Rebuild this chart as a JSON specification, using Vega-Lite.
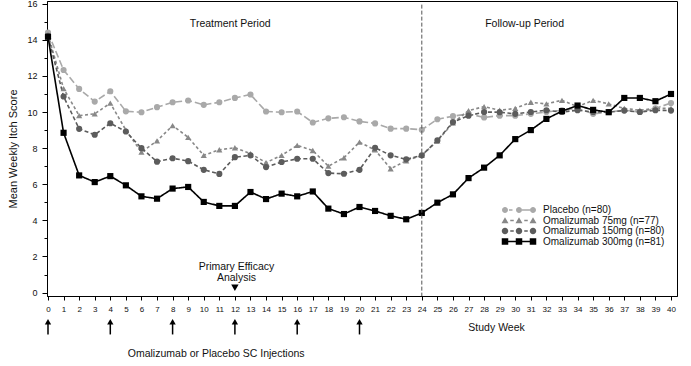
{
  "$schema": "https://vega.github.io/schema/vega-lite/v6.json",
  "width": 630,
  "height": 295,
  "autosize": {"type": "none"},
  "padding": {"left": 47, "top": 1, "right": 14, "bottom": 70},
  "background": "white",
  "config": {
    "font": "Liberation Sans",
    "view": {"stroke": "black", "strokeWidth": 1},
    "axis": {"grid": false, "domainColor": "black", "tickColor": "black", "labelColor": "#111", "titleColor": "#111", "labelFont": "Liberation Sans", "titleFont": "Liberation Sans"},
    "legend": {"orient": "none", "legendX": 467, "legendY": 204, "symbolSize": 100, "labelFontSize": 10, "labelFont": "Liberation Sans", "labelColor": "#111", "rowPadding": 0.5, "labelOffset": 19, "padding": 0, "symbolStrokeWidth": 0, "symbolOpacity": 1, "labelLimit": 300, "titlePadding": 0}
  },
  "datasets": {
    "itch": [
      {"s":"Placebo (n=80)","w":0,"v":14.4},{"s":"Placebo (n=80)","w":1,"v":12.33},{"s":"Placebo (n=80)","w":2,"v":11.28},{"s":"Placebo (n=80)","w":3,"v":10.58},{"s":"Placebo (n=80)","w":4,"v":11.15},{"s":"Placebo (n=80)","w":5,"v":10.04},{"s":"Placebo (n=80)","w":6,"v":9.99},{"s":"Placebo (n=80)","w":7,"v":10.27},{"s":"Placebo (n=80)","w":8,"v":10.54},{"s":"Placebo (n=80)","w":9,"v":10.64},{"s":"Placebo (n=80)","w":10,"v":10.4},{"s":"Placebo (n=80)","w":11,"v":10.54},{"s":"Placebo (n=80)","w":12,"v":10.78},{"s":"Placebo (n=80)","w":13,"v":10.97},{"s":"Placebo (n=80)","w":14,"v":10.03},{"s":"Placebo (n=80)","w":15,"v":9.99},{"s":"Placebo (n=80)","w":16,"v":10.03},{"s":"Placebo (n=80)","w":17,"v":9.42},{"s":"Placebo (n=80)","w":18,"v":9.65},{"s":"Placebo (n=80)","w":19,"v":9.71},{"s":"Placebo (n=80)","w":20,"v":9.48},{"s":"Placebo (n=80)","w":21,"v":9.37},{"s":"Placebo (n=80)","w":22,"v":9.08},{"s":"Placebo (n=80)","w":23,"v":9.08},{"s":"Placebo (n=80)","w":24,"v":9.02},{"s":"Placebo (n=80)","w":25,"v":9.6},{"s":"Placebo (n=80)","w":26,"v":9.77},{"s":"Placebo (n=80)","w":27,"v":9.9},{"s":"Placebo (n=80)","w":28,"v":9.7},{"s":"Placebo (n=80)","w":29,"v":9.8},{"s":"Placebo (n=80)","w":30,"v":9.8},{"s":"Placebo (n=80)","w":31,"v":9.9},{"s":"Placebo (n=80)","w":32,"v":10.0},{"s":"Placebo (n=80)","w":33,"v":10.1},{"s":"Placebo (n=80)","w":34,"v":10.2},{"s":"Placebo (n=80)","w":35,"v":9.9},{"s":"Placebo (n=80)","w":36,"v":10.0},{"s":"Placebo (n=80)","w":37,"v":10.1},{"s":"Placebo (n=80)","w":38,"v":10.0},{"s":"Placebo (n=80)","w":39,"v":10.2},{"s":"Placebo (n=80)","w":40,"v":10.5},
      {"s":"Omalizumab 75mg (n=77)","w":0,"v":14.3},{"s":"Omalizumab 75mg (n=77)","w":1,"v":11.3},{"s":"Omalizumab 75mg (n=77)","w":2,"v":9.8},{"s":"Omalizumab 75mg (n=77)","w":3,"v":9.9},{"s":"Omalizumab 75mg (n=77)","w":4,"v":10.49},{"s":"Omalizumab 75mg (n=77)","w":5,"v":9.0},{"s":"Omalizumab 75mg (n=77)","w":6,"v":7.78},{"s":"Omalizumab 75mg (n=77)","w":7,"v":8.4},{"s":"Omalizumab 75mg (n=77)","w":8,"v":9.25},{"s":"Omalizumab 75mg (n=77)","w":9,"v":8.6},{"s":"Omalizumab 75mg (n=77)","w":10,"v":7.6},{"s":"Omalizumab 75mg (n=77)","w":11,"v":7.91},{"s":"Omalizumab 75mg (n=77)","w":12,"v":8.02},{"s":"Omalizumab 75mg (n=77)","w":13,"v":7.7},{"s":"Omalizumab 75mg (n=77)","w":14,"v":7.2},{"s":"Omalizumab 75mg (n=77)","w":15,"v":7.6},{"s":"Omalizumab 75mg (n=77)","w":16,"v":8.15},{"s":"Omalizumab 75mg (n=77)","w":17,"v":7.87},{"s":"Omalizumab 75mg (n=77)","w":18,"v":7.0},{"s":"Omalizumab 75mg (n=77)","w":19,"v":7.47},{"s":"Omalizumab 75mg (n=77)","w":20,"v":8.33},{"s":"Omalizumab 75mg (n=77)","w":21,"v":7.9},{"s":"Omalizumab 75mg (n=77)","w":22,"v":6.86},{"s":"Omalizumab 75mg (n=77)","w":23,"v":7.3},{"s":"Omalizumab 75mg (n=77)","w":24,"v":7.6},{"s":"Omalizumab 75mg (n=77)","w":25,"v":8.4},{"s":"Omalizumab 75mg (n=77)","w":26,"v":9.4},{"s":"Omalizumab 75mg (n=77)","w":27,"v":10.08},{"s":"Omalizumab 75mg (n=77)","w":28,"v":10.3},{"s":"Omalizumab 75mg (n=77)","w":29,"v":10.1},{"s":"Omalizumab 75mg (n=77)","w":30,"v":10.2},{"s":"Omalizumab 75mg (n=77)","w":31,"v":10.54},{"s":"Omalizumab 75mg (n=77)","w":32,"v":10.45},{"s":"Omalizumab 75mg (n=77)","w":33,"v":10.65},{"s":"Omalizumab 75mg (n=77)","w":34,"v":10.3},{"s":"Omalizumab 75mg (n=77)","w":35,"v":10.65},{"s":"Omalizumab 75mg (n=77)","w":36,"v":10.45},{"s":"Omalizumab 75mg (n=77)","w":37,"v":10.2},{"s":"Omalizumab 75mg (n=77)","w":38,"v":10.1},{"s":"Omalizumab 75mg (n=77)","w":39,"v":10.2},{"s":"Omalizumab 75mg (n=77)","w":40,"v":10.2},
      {"s":"Omalizumab 150mg (n=80)","w":0,"v":14.2},{"s":"Omalizumab 150mg (n=80)","w":1,"v":10.86},{"s":"Omalizumab 150mg (n=80)","w":2,"v":9.07},{"s":"Omalizumab 150mg (n=80)","w":3,"v":8.74},{"s":"Omalizumab 150mg (n=80)","w":4,"v":9.38},{"s":"Omalizumab 150mg (n=80)","w":5,"v":8.92},{"s":"Omalizumab 150mg (n=80)","w":6,"v":8.0},{"s":"Omalizumab 150mg (n=80)","w":7,"v":7.25},{"s":"Omalizumab 150mg (n=80)","w":8,"v":7.44},{"s":"Omalizumab 150mg (n=80)","w":9,"v":7.28},{"s":"Omalizumab 150mg (n=80)","w":10,"v":6.8},{"s":"Omalizumab 150mg (n=80)","w":11,"v":6.57},{"s":"Omalizumab 150mg (n=80)","w":12,"v":7.5},{"s":"Omalizumab 150mg (n=80)","w":13,"v":7.6},{"s":"Omalizumab 150mg (n=80)","w":14,"v":6.95},{"s":"Omalizumab 150mg (n=80)","w":15,"v":7.23},{"s":"Omalizumab 150mg (n=80)","w":16,"v":7.41},{"s":"Omalizumab 150mg (n=80)","w":17,"v":7.41},{"s":"Omalizumab 150mg (n=80)","w":18,"v":6.62},{"s":"Omalizumab 150mg (n=80)","w":19,"v":6.58},{"s":"Omalizumab 150mg (n=80)","w":20,"v":6.8},{"s":"Omalizumab 150mg (n=80)","w":21,"v":8.02},{"s":"Omalizumab 150mg (n=80)","w":22,"v":7.6},{"s":"Omalizumab 150mg (n=80)","w":23,"v":7.38},{"s":"Omalizumab 150mg (n=80)","w":24,"v":7.6},{"s":"Omalizumab 150mg (n=80)","w":25,"v":8.43},{"s":"Omalizumab 150mg (n=80)","w":26,"v":9.44},{"s":"Omalizumab 150mg (n=80)","w":27,"v":9.8},{"s":"Omalizumab 150mg (n=80)","w":28,"v":10.0},{"s":"Omalizumab 150mg (n=80)","w":29,"v":9.99},{"s":"Omalizumab 150mg (n=80)","w":30,"v":9.9},{"s":"Omalizumab 150mg (n=80)","w":31,"v":10.0},{"s":"Omalizumab 150mg (n=80)","w":32,"v":10.1},{"s":"Omalizumab 150mg (n=80)","w":33,"v":10.0},{"s":"Omalizumab 150mg (n=80)","w":34,"v":10.1},{"s":"Omalizumab 150mg (n=80)","w":35,"v":10.0},{"s":"Omalizumab 150mg (n=80)","w":36,"v":10.0},{"s":"Omalizumab 150mg (n=80)","w":37,"v":10.08},{"s":"Omalizumab 150mg (n=80)","w":38,"v":10.0},{"s":"Omalizumab 150mg (n=80)","w":39,"v":10.1},{"s":"Omalizumab 150mg (n=80)","w":40,"v":10.08},
      {"s":"Omalizumab 300mg (n=81)","w":0,"v":14.17},{"s":"Omalizumab 300mg (n=81)","w":1,"v":8.85},{"s":"Omalizumab 300mg (n=81)","w":2,"v":6.49},{"s":"Omalizumab 300mg (n=81)","w":3,"v":6.12},{"s":"Omalizumab 300mg (n=81)","w":4,"v":6.45},{"s":"Omalizumab 300mg (n=81)","w":5,"v":5.94},{"s":"Omalizumab 300mg (n=81)","w":6,"v":5.33},{"s":"Omalizumab 300mg (n=81)","w":7,"v":5.2},{"s":"Omalizumab 300mg (n=81)","w":8,"v":5.76},{"s":"Omalizumab 300mg (n=81)","w":9,"v":5.85},{"s":"Omalizumab 300mg (n=81)","w":10,"v":5.02},{"s":"Omalizumab 300mg (n=81)","w":11,"v":4.8},{"s":"Omalizumab 300mg (n=81)","w":12,"v":4.8},{"s":"Omalizumab 300mg (n=81)","w":13,"v":5.57},{"s":"Omalizumab 300mg (n=81)","w":14,"v":5.18},{"s":"Omalizumab 300mg (n=81)","w":15,"v":5.48},{"s":"Omalizumab 300mg (n=81)","w":16,"v":5.33},{"s":"Omalizumab 300mg (n=81)","w":17,"v":5.6},{"s":"Omalizumab 300mg (n=81)","w":18,"v":4.65},{"s":"Omalizumab 300mg (n=81)","w":19,"v":4.35},{"s":"Omalizumab 300mg (n=81)","w":20,"v":4.74},{"s":"Omalizumab 300mg (n=81)","w":21,"v":4.52},{"s":"Omalizumab 300mg (n=81)","w":22,"v":4.25},{"s":"Omalizumab 300mg (n=81)","w":23,"v":4.06},{"s":"Omalizumab 300mg (n=81)","w":24,"v":4.41},{"s":"Omalizumab 300mg (n=81)","w":25,"v":4.98},{"s":"Omalizumab 300mg (n=81)","w":26,"v":5.44},{"s":"Omalizumab 300mg (n=81)","w":27,"v":6.34},{"s":"Omalizumab 300mg (n=81)","w":28,"v":6.92},{"s":"Omalizumab 300mg (n=81)","w":29,"v":7.6},{"s":"Omalizumab 300mg (n=81)","w":30,"v":8.5},{"s":"Omalizumab 300mg (n=81)","w":31,"v":9.0},{"s":"Omalizumab 300mg (n=81)","w":32,"v":9.62},{"s":"Omalizumab 300mg (n=81)","w":33,"v":10.05},{"s":"Omalizumab 300mg (n=81)","w":34,"v":10.36},{"s":"Omalizumab 300mg (n=81)","w":35,"v":10.12},{"s":"Omalizumab 300mg (n=81)","w":36,"v":9.99},{"s":"Omalizumab 300mg (n=81)","w":37,"v":10.78},{"s":"Omalizumab 300mg (n=81)","w":38,"v":10.78},{"s":"Omalizumab 300mg (n=81)","w":39,"v":10.6},{"s":"Omalizumab 300mg (n=81)","w":40,"v":11.0}
    ],
    "notes": [
      {"label":"Treatment Period","w":11.7,"v":14.88},
      {"label":"Follow-up Period","w":30.6,"v":14.88},
      {"label":"Primary Efficacy","w":12.1,"v":1.41},
      {"label":"Analysis","w":12.1,"v":0.79},
      {"label":"Study Week","w":28.8,"v":-1.95},
      {"label":"Omalizumab or Placebo SC Injections","w":10.8,"v":-3.38}
    ],
    "divider": [{"w":24,"v":15.95,"v2":-0.19}],
    "analysis": [{"w":12,"v":0.27}],
    "injections": [
      {"w":0,"v":-1.62,"v2":-2.32},{"w":4,"v":-1.62,"v2":-2.32},{"w":8,"v":-1.62,"v2":-2.32},
      {"w":12,"v":-1.62,"v2":-2.32},{"w":16,"v":-1.62,"v2":-2.32},{"w":20,"v":-1.62,"v2":-2.32}
    ]
  },
  "encoding": {
    "x": {"field": "w", "type": "quantitative", "scale": {"domain": [-0.064, 40.385], "nice": false, "zero": false},
      "axis": {"title": null, "values": [0,1,2,3,4,5,6,7,8,9,10,11,12,13,14,15,16,17,18,19,20,21,22,23,24,25,26,27,28,29,30,31,32,33,34,35,36,37,38,39,40], "labelFontSize": 8, "tickSize": 4, "labelPadding": 5, "labelFlush": false, "labelOverlap": false}},
    "y": {"field": "v", "type": "quantitative", "scale": {"domain": [-0.19, 16.15], "nice": false, "zero": false},
      "axis": {"title": "Mean Weekly Itch Score", "titleFontSize": 11, "titleFontWeight": "normal", "titlePadding": 8, "values": [0,1,2,3,4,5,6,7,8,9,10,11,12,13,14,15,16], "labelExpr": "datum.value % 2 === 0 ? datum.label : ''", "labelOverlap": false, "tickSize": {"condition": {"test": "datum.value % 2 === 0", "value": 5}, "value": 3}, "labelFontSize": 9, "labelPadding": 5}}
  },
  "layer": [
    {
      "data": {"name": "itch"},
      "mark": {"type": "line", "strokeWidth": 1.6},
      "encoding": {
        "color": {"field": "s", "type": "nominal", "legend": null,
          "scale": {"domain": ["Placebo (n=80)", "Omalizumab 75mg (n=77)", "Omalizumab 150mg (n=80)", "Omalizumab 300mg (n=81)"], "range": ["#a9a9a9", "#888888", "#5c5c5c", "#000000"]}},
        "strokeDash": {"field": "s", "type": "nominal", "legend": null,
          "scale": {"domain": ["Placebo (n=80)", "Omalizumab 75mg (n=77)", "Omalizumab 150mg (n=80)", "Omalizumab 300mg (n=81)"], "range": [[7, 3], [3, 2.5], [4, 2.5], [1, 0]]}},
        "order": {"field": "w", "type": "quantitative"}
      }
    },
    {
      "data": {"name": "itch"},
      "mark": {"type": "point", "filled": true, "opacity": 1, "size": 38},
      "encoding": {
        "color": {"field": "s", "type": "nominal", "legend": null,
          "scale": {"domain": ["Placebo (n=80)", "Omalizumab 75mg (n=77)", "Omalizumab 150mg (n=80)", "Omalizumab 300mg (n=81)"], "range": ["#a9a9a9", "#888888", "#5c5c5c", "#000000"]}},
        "shape": {"field": "s", "type": "nominal", "legend": null,
          "scale": {"domain": ["Placebo (n=80)", "Omalizumab 75mg (n=77)", "Omalizumab 150mg (n=80)", "Omalizumab 300mg (n=81)"], "range": ["circle", "triangle-up", "circle", "square"]}}
      }
    },
    {
      "data": {"name": "itch"},
      "transform": [{"filter": "datum.w < -5"}],
      "mark": {"type": "point", "filled": true, "opacity": 1},
      "encoding": {
        "color": {"field": "s", "type": "nominal", "title": null, "legend": {},
          "scale": {"domain": ["Placebo (n=80)", "Omalizumab 75mg (n=77)", "Omalizumab 150mg (n=80)", "Omalizumab 300mg (n=81)"], "range": ["#a9a9a9", "#888888", "#5c5c5c", "#000000"]}},
        "shape": {"field": "s", "type": "nominal", "title": null,
          "scale": {"domain": ["Placebo (n=80)", "Omalizumab 75mg (n=77)", "Omalizumab 150mg (n=80)", "Omalizumab 300mg (n=81)"],
            "range": [
              "M-3.4,0A0.6,0.6 0 1,0 -2.2,0A0.6,0.6 0 1,0 -3.4,0ZM-0.6,0A0.6,0.6 0 1,0 0.6,0A0.6,0.6 0 1,0 -0.6,0ZM2.2,0A0.6,0.6 0 1,0 3.4,0A0.6,0.6 0 1,0 2.2,0ZM-2,-0.15H-1.3V0.15H-2ZM0.6,-0.15H2.2V0.15H0.6Z",
              "M-2.8,-0.65L-2.1,0.55L-3.5,0.55ZM0,-0.65L0.7,0.55L-0.7,0.55ZM2.8,-0.65L3.5,0.55L2.1,0.55ZM-1.75,-0.15H-1.05V0.15H-1.75ZM1.05,-0.15H1.75V0.15H1.05Z",
              "M-3.45,0A0.65,0.65 0 1,0 -2.15,0A0.65,0.65 0 1,0 -3.45,0ZM-0.65,0A0.65,0.65 0 1,0 0.65,0A0.65,0.65 0 1,0 -0.65,0ZM2.15,0A0.65,0.65 0 1,0 3.45,0A0.65,0.65 0 1,0 2.15,0ZM-1.75,-0.15H-1.05V0.15H-1.75ZM1.05,-0.15H1.75V0.15H1.05Z",
              "M-3.45,-0.65H-2.15V0.65H-3.45ZM-0.65,-0.65H0.65V0.65H-0.65ZM2.15,-0.65H3.45V0.65H2.15ZM-2.15,-0.17H2.15V0.17H-2.15Z"
            ]},
          "legend": {}}
      }
    },
    {
      "data": {"name": "divider"},
      "mark": {"type": "rule", "color": "#555", "strokeDash": [4, 2], "strokeWidth": 1},
      "encoding": {"y2": {"field": "v2"}}
    },
    {
      "data": {"name": "notes"},
      "mark": {"type": "text", "fontSize": 10.5, "font": "Liberation Sans", "color": "#111", "baseline": "middle", "align": "center"},
      "encoding": {"text": {"field": "label"}}
    },
    {
      "data": {"name": "analysis"},
      "mark": {"type": "point", "shape": "triangle-down", "filled": true, "color": "black", "opacity": 1, "size": 55},
      "encoding": {}
    },
    {
      "data": {"name": "injections"},
      "mark": {"type": "rule", "color": "black", "strokeWidth": 1.5},
      "encoding": {"y2": {"field": "v2"}}
    },
    {
      "data": {"name": "injections"},
      "mark": {"type": "point", "shape": "triangle-up", "filled": true, "color": "black", "opacity": 1, "size": 40},
      "encoding": {}
    }
  ],
  "resolve": {"scale": {"shape": "independent", "color": "independent"}}
}
